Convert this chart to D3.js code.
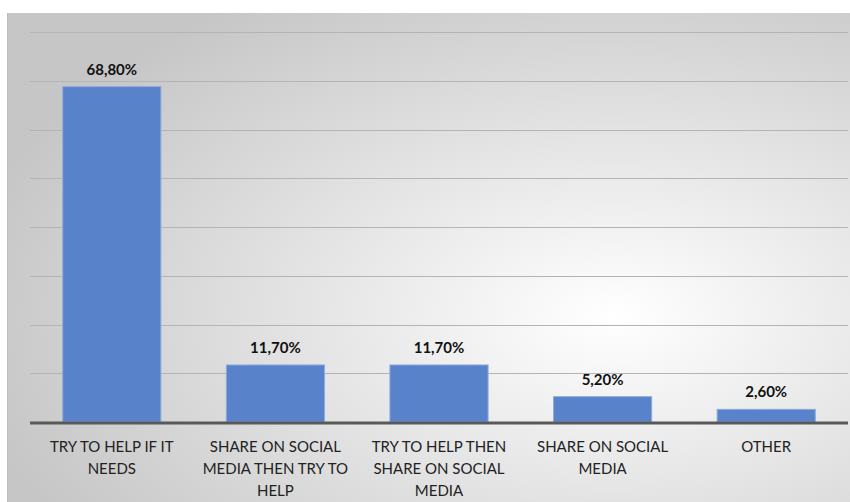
<!DOCTYPE html>
<html>
<head>
<meta charset="utf-8">
<script src="https://cdn.jsdelivr.net/npm/d3@7"></script>
<style>
  body { margin: 0; background: #fff; }
  svg { display: block; font-family: Lato, "Open Sans", sans-serif; }
</style>
</head>
<body>
<svg id="chart"></svg>
<script>
// data
const categories = [
  "TRY TO HELP IF IT NEEDS",
  "SHARE ON SOCIAL MEDIA THEN TRY TO HELP",
  "TRY TO HELP THEN SHARE ON SOCIAL MEDIA",
  "SHARE ON SOCIAL MEDIA",
  "OTHER"
];
const categoryLines = [
  ["TRY TO HELP IF IT", "NEEDS"],
  ["SHARE ON SOCIAL", "MEDIA THEN TRY TO", "HELP"],
  ["TRY TO HELP THEN", "SHARE ON SOCIAL", "MEDIA"],
  ["SHARE ON SOCIAL", "MEDIA"],
  ["OTHER"]
];
const values = [0.688, 0.117, 0.117, 0.052, 0.026];
const valueLabels = ["68,80%", "11,70%", "11,70%", "5,20%", "2,60%"];
const gridTicks = [0.1, 0.2, 0.3, 0.4, 0.5, 0.6, 0.7, 0.8];

const width = 850, height = 502;
const plot = { left: 30, right: 848, top: 32, bottom: 422 };

const svg = d3.select("#chart")
  .attr("width", width)
  .attr("height", height)
  .attr("viewBox", [0, 0, width, height]);

// background gradient
const defs = svg.append("defs");
const grad = defs.append("radialGradient")
  .attr("id", "bg")
  .attr("cx", 0.72).attr("cy", 0.62).attr("r", 0.78);
grad.append("stop").attr("offset", 0).attr("stop-color", "#ffffff");
grad.append("stop").attr("offset", 1).attr("stop-color", "#c6c6c6");

svg.append("rect")
  .attr("x", 7).attr("y", 13)
  .attr("width", width - 7).attr("height", height - 13)
  .attr("fill", "url(#bg)");

svg.append("line")
  .attr("x1", 7.5).attr("x2", 7.5)
  .attr("y1", 13).attr("y2", height)
  .attr("stroke", "#bdbdbd");

const x = d3.scaleBand()
  .domain(categories)
  .range([plot.left, plot.right])
  .paddingInner(0.4)
  .paddingOuter(0.2);

const y = d3.scaleLinear()
  .domain([0, 0.8])
  .range([plot.bottom, plot.top]);

// gridlines
svg.append("g")
  .selectAll("line")
  .data(gridTicks)
  .join("line")
  .attr("x1", plot.left).attr("x2", plot.right)
  .attr("y1", d => Math.round(y(d)) + 0.5)
  .attr("y2", d => Math.round(y(d)) + 0.5)
  .attr("stroke", "#b4b4b4")
  .attr("stroke-width", 1);

// bars
svg.append("g")
  .selectAll("rect")
  .data(values)
  .join("rect")
  .attr("x", (d, i) => x(categories[i]))
  .attr("y", d => y(d))
  .attr("width", x.bandwidth())
  .attr("height", d => y(0) - y(d))
  .attr("fill", "#5882c9")
  .attr("stroke", "#8eabde")
  .attr("stroke-width", 1);

// baseline
svg.append("line")
  .attr("x1", plot.left).attr("x2", plot.right)
  .attr("y1", y(0) + 1).attr("y2", y(0) + 1)
  .attr("stroke", "#595959")
  .attr("stroke-width", 3);

// value labels
svg.append("g")
  .selectAll("text")
  .data(values)
  .join("text")
  .attr("x", (d, i) => x(categories[i]) + x.bandwidth() / 2)
  .attr("y", d => y(d) - 12)
  .attr("text-anchor", "middle")
  .attr("font-size", 15)
  .attr("font-weight", "bold")
  .attr("fill", "#111111")
  .text((d, i) => valueLabels[i]);

// category labels
const catG = svg.append("g")
  .selectAll("text")
  .data(categories)
  .join("text")
  .attr("x", d => x(d) + x.bandwidth() / 2)
  .attr("y", 452)
  .attr("text-anchor", "middle")
  .attr("font-size", 15)
  .attr("fill", "#222222");

catG.each(function(d, i) {
  d3.select(this).selectAll("tspan")
    .data(categoryLines[i])
    .join("tspan")
    .attr("x", x(d) + x.bandwidth() / 2)
    .attr("dy", (t, j) => j === 0 ? 0 : 22)
    .text(t => t);
});
</script>
</body>
</html>
